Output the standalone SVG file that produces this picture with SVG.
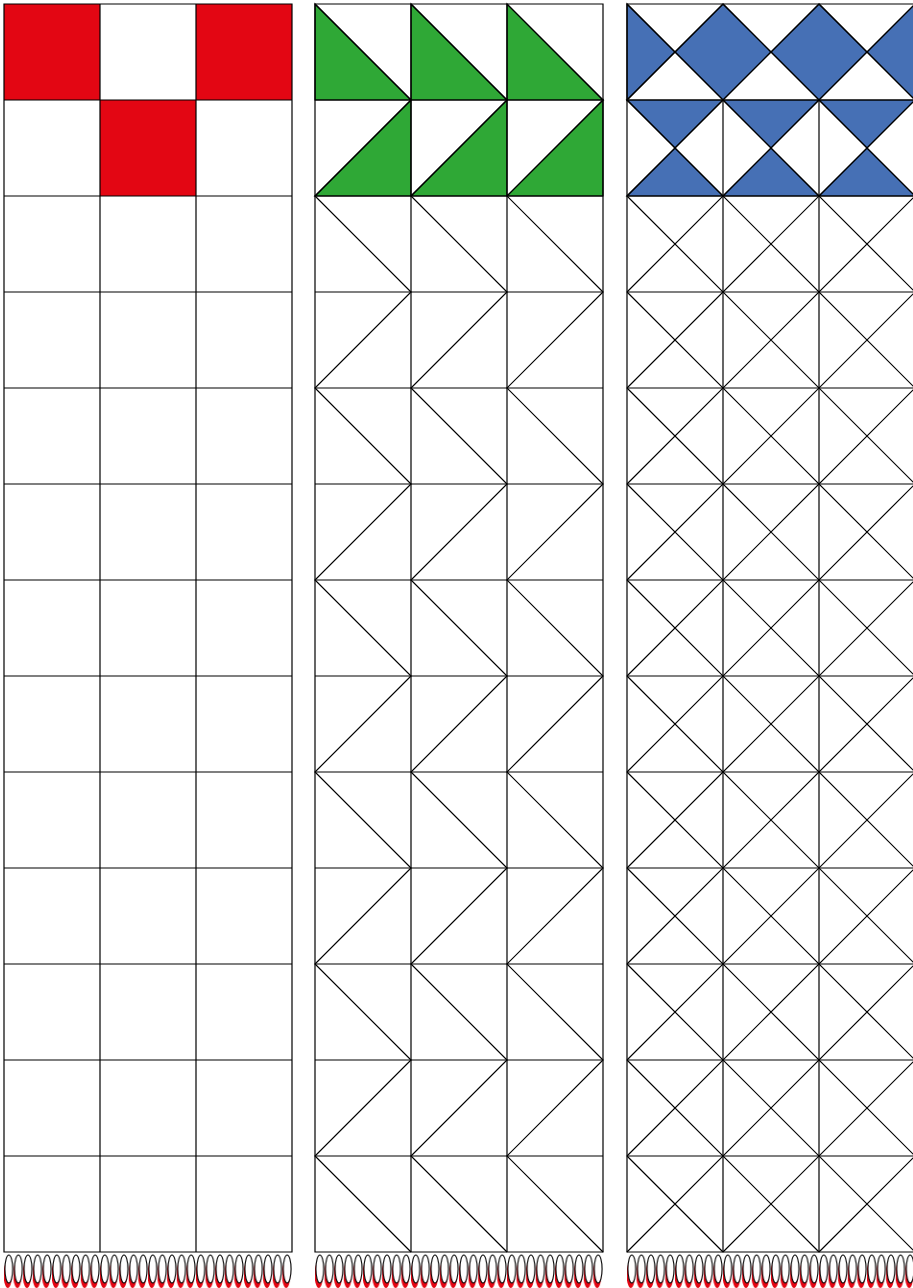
<svg xmlns="http://www.w3.org/2000/svg" width="913" height="1288" viewBox="0 0 913 1288">
<style>
.ln{fill:none;stroke:#000;stroke-width:1.2;stroke-linejoin:miter}
.red{fill:#E30613}
.grn{fill:#2FA836;stroke:#000;stroke-width:1.2}
.blu{fill:#4670B5;stroke:#000;stroke-width:1.2}
</style>
<defs>
<pattern id="ov" patternUnits="userSpaceOnUse" x="0" y="1250" width="9.6" height="38">
<ellipse cx="3.8" cy="24.5" rx="4.2" ry="13.5" fill="#E30613"/>
<ellipse cx="4.8" cy="19" rx="3.9" ry="14" fill="#fff" stroke="#000" stroke-width="1.1"/>
</pattern>
<path id="grid" class="ln" d="M0 0H288V1248H0Z M96 0V1248 M192 0V1248 M0 96H288 M0 192H288 M0 288H288 M0 384H288 M0 480H288 M0 576H288 M0 672H288 M0 768H288 M0 864H288 M0 960H288 M0 1056H288 M0 1152H288"/>
<path id="grid3" class="ln" d="M0 0H288V1248H0Z M96 96V1248 M192 96V1248 M0 96H288 M0 192H288 M0 288H288 M0 384H288 M0 480H288 M0 576H288 M0 672H288 M0 768H288 M0 864H288 M0 960H288 M0 1056H288 M0 1152H288"/>
</defs>
<rect width="913" height="1288" fill="#fff"/>

<g id="panel1">
<rect class="red" x="4" y="4" width="96" height="96"/>
<rect class="red" x="196" y="4" width="96" height="96"/>
<rect class="red" x="100" y="100" width="96" height="96"/>
<use href="#grid" x="4" y="4"/>
</g>

<g id="panel2">
<path class="grn" d="M315 4L315 100L411 100Z M411 4L411 100L507 100Z M507 4L507 100L603 100Z"/>
<path class="grn" d="M315 196L411 100L411 196Z M411 196L507 100L507 196Z M507 196L603 100L603 196Z"/>
<path class="ln" d="M315 4L411 100L315 196L411 292L315 388L411 484L315 580L411 676L315 772L411 868L315 964L411 1060L315 1156L411 1252
M411 4L507 100L411 196L507 292L411 388L507 484L411 580L507 676L411 772L507 868L411 964L507 1060L411 1156L507 1252
M507 4L603 100L507 196L603 292L507 388L603 484L507 580L603 676L507 772L603 868L507 964L603 1060L507 1156L603 1252"/>
<use href="#grid" x="315" y="4"/>
</g>

<g id="panel3">
<path class="blu" d="M627 4L675 52L627 100Z M723 4L771 52L723 100L675 52Z M819 4L867 52L819 100L771 52Z M915 4L867 52L915 100Z"/>
<path class="blu" d="M627 100L723 100L675 148Z M723 100L819 100L771 148Z M819 100L915 100L867 148Z M627 196L723 196L675 148Z M723 196L819 196L771 148Z M819 196L915 196L867 148Z"/>
<path class="ln" d="M627 4L915 292 M723 4L915 196 M819 4L915 100 M627 100L915 388 M627 196L915 484 M627 292L915 580 M627 388L915 676 M627 484L915 772 M627 580L915 868 M627 676L915 964 M627 772L915 1060 M627 868L915 1156 M627 964L915 1252 M627 1060L819 1252 M627 1156L723 1252
M627 100L723 4 M627 196L819 4 M627 292L915 4 M627 388L915 100 M627 484L915 196 M627 580L915 292 M627 676L915 388 M627 772L915 484 M627 868L915 580 M627 964L915 676 M627 1060L915 772 M627 1156L915 868 M627 1252L915 964 M723 1252L915 1060 M819 1252L915 1156"/>
<use href="#grid3" x="627" y="4"/>
</g>

<g id="ovals">
<g transform="translate(4,0)"><rect x="0" y="1250" width="288" height="38" fill="url(#ov)"/></g>
<g transform="translate(315,0)"><rect x="0" y="1250" width="288" height="38" fill="url(#ov)"/></g>
<g transform="translate(627,0)"><rect x="0" y="1250" width="288" height="38" fill="url(#ov)"/></g>
</g>
</svg>
